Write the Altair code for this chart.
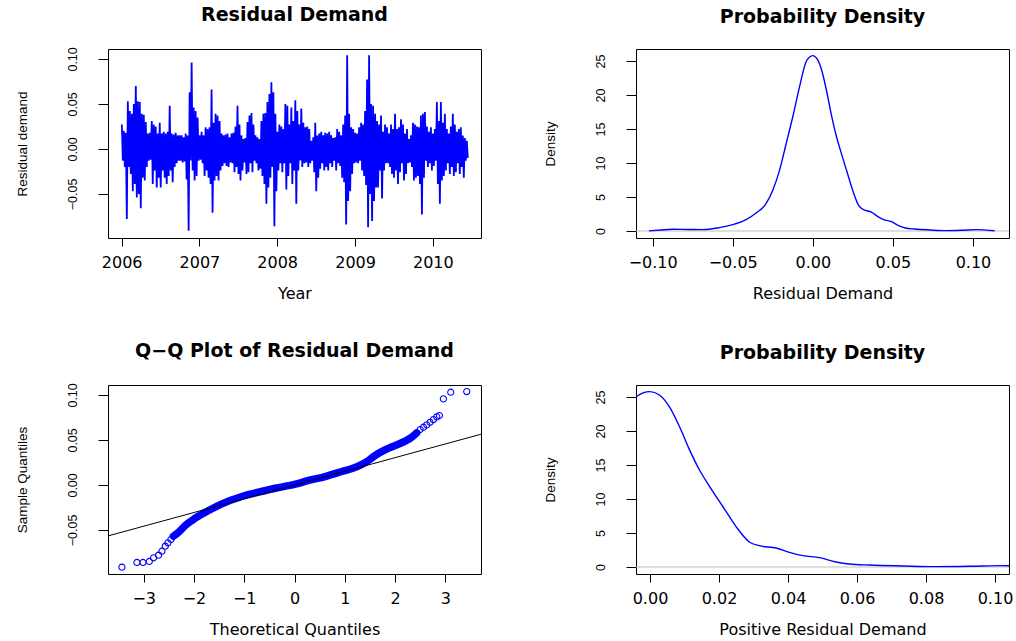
import altair as alt
import pandas as pd

# Daily residual demand, read left to right as alternating up / down swings
residual_demand = [
    0.027, -0.013, 0.020, -0.020, 0.018, -0.078, 0.053, -0.020, 0.042, -0.028,
    0.039, -0.047, 0.050, -0.039, 0.070, -0.054, 0.053, -0.050, 0.052, -0.066,
    0.039, -0.032, 0.038, -0.035, 0.030, -0.020, 0.017, -0.013, 0.018, -0.012,
    0.031, -0.039, 0.027, -0.024, 0.025, -0.043, 0.017, -0.032, 0.029, -0.043,
    0.017, -0.024, 0.019, -0.032, 0.017, -0.039, 0.019, -0.030, 0.048, -0.024,
    0.017, -0.037, 0.016, -0.020, 0.018, -0.016, 0.015, -0.013, 0.015, -0.013,
    0.015, -0.015, 0.013, -0.014, 0.017, -0.034, 0.015, -0.091, 0.063, -0.013,
    0.096, -0.024, 0.046, -0.035, 0.042, -0.030, 0.035, -0.013, 0.015, -0.012,
    0.019, -0.016, 0.015, -0.030, 0.024, -0.024, 0.022, -0.032, 0.024, -0.039,
    0.066, -0.071, 0.029, -0.035, 0.039, -0.030, 0.037, -0.035, 0.031, -0.024,
    0.017, -0.019, 0.015, -0.016, 0.016, -0.019, 0.017, -0.020, 0.013, -0.015,
    0.017, -0.016, 0.018, -0.026, 0.025, -0.020, 0.048, -0.028, 0.027, -0.035,
    0.015, -0.024, 0.011, -0.015, 0.012, -0.028, 0.030, -0.026, 0.037, -0.016,
    0.040, -0.026, 0.027, -0.013, 0.015, -0.016, 0.013, -0.024, 0.011, -0.022,
    0.031, -0.030, 0.039, -0.039, 0.040, -0.061, 0.052, -0.043, 0.061, -0.032,
    0.074, -0.020, 0.063, -0.086, 0.039, -0.047, 0.019, -0.024, 0.027, -0.016,
    0.025, -0.026, 0.022, -0.016, 0.050, -0.045, 0.048, -0.030, 0.027, -0.016,
    0.046, -0.039, 0.031, -0.024, 0.054, -0.061, 0.042, -0.024, 0.027, -0.013,
    0.045, -0.020, 0.029, -0.016, 0.024, -0.015, 0.025, -0.020, 0.022, -0.016,
    0.009, -0.013, 0.013, -0.026, 0.029, -0.047, 0.015, -0.032, 0.017, -0.022,
    0.019, -0.016, 0.015, -0.024, 0.018, -0.020, 0.017, -0.024, 0.019, -0.016,
    0.015, -0.020, 0.012, -0.013, 0.013, -0.024, 0.022, -0.016, 0.019, -0.019,
    0.015, -0.032, 0.027, -0.037, 0.037, -0.084, 0.104, -0.058, 0.039, -0.047,
    0.024, -0.028, 0.022, -0.016, 0.018, -0.015, 0.017, -0.016, 0.024, -0.013,
    0.029, -0.024, 0.027, -0.030, 0.042, -0.040, 0.077, -0.087, 0.104, -0.050,
    0.050, -0.080, 0.048, -0.058, 0.039, -0.043, 0.031, -0.043, 0.027, -0.024,
    0.037, -0.055, 0.019, -0.024, 0.027, -0.016, 0.024, -0.016, 0.017, -0.020,
    0.027, -0.028, 0.022, -0.032, 0.039, -0.024, 0.022, -0.039, 0.024, -0.026,
    0.033, -0.016, 0.027, -0.035, 0.017, -0.028, 0.022, -0.016, 0.011, -0.015,
    0.015, -0.020, 0.029, -0.035, 0.027, -0.032, 0.025, -0.030, 0.024, -0.039,
    0.037, -0.073, 0.039, -0.032, 0.041, -0.013, 0.025, -0.020, 0.019, -0.016,
    0.024, -0.024, 0.017, -0.019, 0.022, -0.013, 0.052, -0.039, 0.031, -0.061,
    0.052, -0.035, 0.029, -0.030, 0.039, -0.024, 0.022, -0.016, 0.017, -0.028,
    0.025, -0.020, 0.039, -0.030, 0.027, -0.026, 0.019, -0.016, 0.022, -0.028,
    0.024, -0.020, 0.015, -0.032, 0.012, -0.013, 0.009, -0.010,
]
series_start = "2006-01-02"
series_end = "2010-06-14"
year_ticks = [2006, 2007, 2008, 2009, 2010]

# Kernel density estimate of the residuals
density_x = [-0.1023, -0.095, -0.0875, -0.078, -0.0688, -0.0584, -0.050, -0.0417,
             -0.0354, -0.0292, -0.025, -0.0208, -0.0167, -0.0125, -0.0083, -0.0042,
             -0.002, 0.0, 0.0027, 0.0056, 0.0085, 0.0114, 0.0143, 0.0172, 0.0211,
             0.0249, 0.0288, 0.0317, 0.0366, 0.0404, 0.0443, 0.0491, 0.0539, 0.0578,
             0.0636, 0.0733, 0.083, 0.0926, 0.102, 0.1135]
density_y = [0.02, 0.15, 0.25, 0.22, 0.2, 0.49, 0.93, 1.67,
             2.65, 4.02, 5.98, 8.92, 12.8, 16.8, 21.2, 24.9,
             25.6, 25.8, 25.3, 23.6, 20.7, 17.3, 14.3, 11.9, 8.9,
             5.98, 3.68, 3.14, 2.79, 2.16, 1.67, 1.37, 0.74, 0.44,
             0.29, 0.15, 0.05, 0.1, 0.2, 0.03]

# Normal Q-Q plot: the dense run of sample quantiles, the sparse tails, the reference line
qq_band_theoretical = [-2.41, -2.306, -2.174, -1.975, -1.71, -1.445, -1.048, -0.716, -0.385,
                       0.0, 0.278, 0.61, 0.94, 1.27, 1.47, 1.6, 1.8, 2.0, 2.2, 2.33, 2.43]
qq_band_sample = [-0.057, -0.0526, -0.0451, -0.037, -0.0285, -0.0211, -0.0129, -0.0081, -0.0037,
                  0.0005, 0.0049, 0.0093, 0.0149, 0.0208, 0.0271, 0.0326, 0.0389, 0.0437, 0.0486,
                  0.053, 0.0578]
qq_tail_theoretical = [-3.433, -3.135, -3.015, -2.889, -2.803, -2.704, -2.637, -2.571, -2.518,
                       -2.459, 2.499, 2.565, 2.631, 2.697, 2.763, 2.829, 2.882, 2.962, 3.108, 3.426]
qq_tail_sample = [-0.0914, -0.0862, -0.0862, -0.0851, -0.081, -0.0781, -0.0737, -0.0681, -0.0644,
                  -0.0607, 0.0615, 0.0641, 0.0667, 0.0696, 0.0726, 0.0756, 0.0771, 0.0956,
                  0.103, 0.1037]
qq_line_theoretical = [-3.71, 3.71]
qq_line_sample = [-0.0567, 0.0563]

resid_ticks = [-0.05, 0.0, 0.05, 0.10]
density_ticks = [0, 5, 10, 15, 20, 25]
resid_x_ticks = [-0.10, -0.05, 0.0, 0.05, 0.10]
positive_ticks = [0.0, 0.02, 0.04, 0.06, 0.08, 0.10]
quantile_ticks = [-3, -2, -1, 0, 1, 2, 3]

BLUE = "#0000FF"
FONT_H = "DejaVu Sans"
FONT_V = "Liberation Sans"
W, H = 373, 189


def x_axis(title, values, fmt):
    return alt.Axis(
        title=title, values=values, format=fmt, grid=False, domain=False,
        tickSize=8, tickColor="black", tickWidth=1,
        labelFont=FONT_H, labelFontSize=16, labelColor="black",
        labelBaseline="alphabetic", labelPadding=21, labelFlush=False, labelOverlap=False,
        titleFont=FONT_H, titleFontSize=16, titleFontWeight="normal", titleColor="black",
        titleBaseline="alphabetic", titleY=60,
    )


def y_axis(title, values, fmt):
    return alt.Axis(
        title=title, values=values, format=fmt, grid=False, domain=False,
        tickSize=10, tickColor="black", tickWidth=1,
        labelFont=FONT_V, labelFontSize=12.5, labelColor="black",
        labelAngle=270, labelAlign="center", labelBaseline="alphabetic",
        labelPadding=22, labelFlush=False, labelOverlap=False,
        titleFont=FONT_V, titleFontSize=13.5, titleFontWeight="normal", titleColor="black",
        titleAngle=270, titleAlign="center", titleBaseline="alphabetic",
        titleX=-82, titleY=H / 2,
    )


def panel_title(text):
    return alt.TitleParams(text, font=FONT_H, fontSize=19, fontWeight="bold", color="black",
                           anchor="middle", baseline="alphabetic", frame="group", offset=7)


resid_scale = alt.Scale(domain=[-0.099, 0.111], nice=False, zero=False)
density_scale = alt.Scale(domain=[-1.03, 26.77], nice=False, zero=False)

# Panel 1: residual demand through time
ts = pd.DataFrame({
    "date": pd.date_range(series_start, series_end, periods=len(residual_demand)),
    "residual": residual_demand,
})
time_scale = alt.Scale(domain=[alt.DateTime(year=2005, month=10, date=29),
                               alt.DateTime(year=2010, month=8, date=15)], nice=False)
series = alt.Chart(ts, title=panel_title("Residual Demand")).mark_line(
    color=BLUE, strokeWidth=1.8, clip=True
).encode(
    x=alt.X("date:T", scale=time_scale,
            axis=x_axis("Year", [alt.DateTime(year=y, month=1, date=1) for y in year_ticks], "%Y")),
    y=alt.Y("residual:Q", scale=resid_scale, axis=y_axis("Residual demand", resid_ticks, ".2f")),
).properties(width=W, height=H)

# Panels 2 and 4: density of the residuals (full range, then the positive side)
dens = pd.DataFrame({"value": density_x, "density": density_y})
zero_df = pd.DataFrame({"level": [0]})


def density_panel(title, xtitle, domain, ticks):
    xs = alt.Scale(domain=domain, nice=False, zero=False)
    base = alt.Chart(zero_df).mark_rule(color="#BEBEBE", strokeWidth=1).encode(
        y=alt.Y("level:Q", scale=density_scale, axis=y_axis("Density", density_ticks, "d"))
    )
    curve = alt.Chart(dens).mark_line(color=BLUE, strokeWidth=1.4, clip=True,
                                      interpolate="monotone").encode(
        x=alt.X("value:Q", scale=xs, axis=x_axis(xtitle, ticks, ".2f")),
        y=alt.Y("density:Q", scale=density_scale, axis=y_axis("Density", density_ticks, "d")),
    )
    return alt.layer(base, curve, title=panel_title(title)).properties(width=W, height=H)


dens_full = density_panel("Probability Density", "Residual Demand", [-0.1104, 0.1225], resid_x_ticks)
dens_pos = density_panel("Probability Density", "Positive Residual Demand", [-0.00406, 0.10406],
                         positive_ticks)

# Panel 3: normal Q-Q plot
q_scale = alt.Scale(domain=[-3.71, 3.71], nice=False, zero=False)
qx = x_axis("Theoretical Quantiles", quantile_ticks, "d")
qy = y_axis("Sample Quantiles", resid_ticks, ".2f")
band = alt.Chart(pd.DataFrame({"t": qq_band_theoretical, "s": qq_band_sample})).mark_line(
    color=BLUE, strokeWidth=7.5, strokeCap="round", interpolate="monotone", clip=True
).encode(x=alt.X("t:Q", scale=q_scale, axis=qx), y=alt.Y("s:Q", scale=resid_scale, axis=qy))
tails = alt.Chart(pd.DataFrame({"t": qq_tail_theoretical, "s": qq_tail_sample})).mark_point(
    shape="circle", filled=False, color=BLUE, size=38, strokeWidth=1.1, opacity=1, clip=True
).encode(x=alt.X("t:Q", scale=q_scale, axis=qx), y=alt.Y("s:Q", scale=resid_scale, axis=qy))
qline = alt.Chart(pd.DataFrame({"t": qq_line_theoretical, "s": qq_line_sample})).mark_line(
    color="black", strokeWidth=1, clip=True
).encode(x=alt.X("t:Q", scale=q_scale, axis=qx), y=alt.Y("s:Q", scale=resid_scale, axis=qy))
qq = alt.layer(band, tails, qline, title=panel_title("Q\u2212Q Plot of Residual Demand")).properties(
    width=W, height=H)

chart = alt.concat(
    series, dens_full, qq, dens_pos,
    columns=2, spacing={"row": 147, "column": 155}, bounds="flush",
).properties(
    padding={"left": 14, "top": 5, "right": 0, "bottom": 0}
).configure(background="white").configure_view(stroke="black", strokeWidth=1)

chart.save("out.html", embed_options={"renderer": "svg", "actions": False})
